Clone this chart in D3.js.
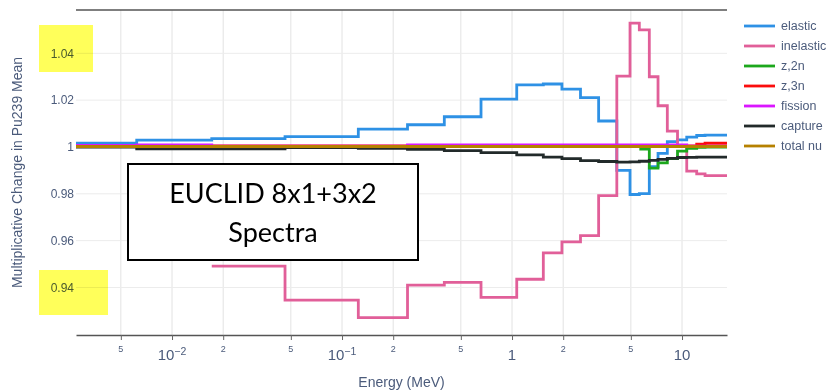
<!DOCTYPE html>
<html>
<head>
<meta charset="utf-8">
<script src="https://cdn.jsdelivr.net/npm/d3@7"></script>
<style>
  body { margin: 0; background: #fff; }
  svg { display: block; font-family: "Liberation Sans", Arial, sans-serif; }
</style>
</head>
<body>
<svg id="chart" width="827" height="392"></svg>
<script>
// bin edges (MeV) shared by all sensitivity curves
var edgesMeV = [0.002724, 0.0062, 0.01713, 0.04621, 0.1247, 0.2428, 0.3997, 0.6571, 1.066, 1.528,
  1.966, 2.528, 3.232, 4.135, 4.945, 5.608, 6.421, 7.226, 8.195, 9.408, 10.66, 12.2, 13.66, 18.39]

// one value per bin (null = no data in that bin)
var elastic = [1.0016, 1.0029, 1.0036, 1.0044, 1.0076, 1.0095, 1.0129, 1.0204, 1.0265, 1.0269,
  1.0247, 1.0211, 1.0111, 0.9900, 0.9797, 0.9801, 0.9916, 0.9973, 1.0023, 1.0030, 1.0042, 1.0049, 1.0051]
var inelastic = [null, null, 0.9491, 0.9346, 0.9271, 0.9410, 0.9422, 0.9358, 0.9435, 0.9548,
  0.9595, 0.9621, 0.9792, 1.0303, 1.0529, 1.0500, 1.0300, 1.0176, 1.0068, 1.0004, 0.9897, 0.9885, 0.9878]
var z2n = [null, null, null, null, null, null, null, null, null, null,
  null, null, null, null, null, 0.9991, 0.9910, 0.9932, 0.9950, 0.9982, 0.9994, 0.9998, 0.9999]
var z3n = [1.0005, 1.0005, 1.0005, 1.0005, 1.0005, 1.0005, 1.0005, 1.0005, 1.0005, 1.0005,
  1.0005, 1.0005, 1.0005, 1.0005, 1.0005, 1.0005, 1.0005, 1.0005, 1.0005, 1.0005, 1.0005, 1.0012, 1.0016]
var fission = [1.0007, 1.0009, 1.0004, 1.0004, 1.0004, 1.0009, 1.0009, 1.0009, 1.0009, 1.0009,
  1.0009, 1.0009, 1.0009, 1.0009, 1.0009, 1.0009, 1.0009, 1.0009, 1.0009, 1.0009, 1.0004, 1.0004, 1.0004]
var capture = [0.9999, 0.9992, 0.9992, 0.9997, 0.9994, 0.9990, 0.9984, 0.9976, 0.9966, 0.9957,
  0.9950, 0.9942, 0.9938, 0.9935, 0.9936, 0.9939, 0.9943, 0.9947, 0.9951, 0.9955, 0.9956, 0.9957, 0.9957]
var totalNu = [1.0002, 1.0002, 1.0002, 1.0002, 1.0002, 1.0002, 1.0002, 1.0002, 1.0002, 1.0002,
  1.0002, 1.0002, 1.0002, 1.0002, 1.0002, 1.0002, 1.0002, 1.0002, 1.0002, 1.0002, 1.0002, 1.0002, 1.0002]

var seriesNames = ['elastic', 'inelastic', 'z,2n', 'z,3n', 'fission', 'capture', 'total nu']
var seriesValues = [elastic, inelastic, z2n, z3n, fission, capture, totalNu]
var seriesColors = ['#2E91E5', '#E15F99', '#1CA71C', '#FB0D0D', '#DA16FF', '#222A2A', '#B68100']

var yTicks = [0.94, 0.96, 0.98, 1, 1.02, 1.04]
var yTickLabels = ['0.94', '0.96', '0.98', '1', '1.02', '1.04']
var xMajorTicks = [0.01, 0.1, 1, 10]
var xMajorLabels = [['10', '\u22122'], ['10', '\u22121'], ['1', ''], ['10', '']]
var xMinorTicks = [0.005, 0.02, 0.05, 0.2, 0.5, 2, 5]
var xMinorLabels = ['5', '2', '5', '2', '5', '2', '5']

var textColor = '#4b5b7b'
var margin = {left: 76, right: 100, top: 10, bottom: 57}
var width = 827, height = 392

var svg = d3.select('#chart')

var x = d3.scaleLog()
    .domain([edgesMeV[0], edgesMeV[edgesMeV.length - 1]])
    .range([margin.left, width - margin.right])
var y = d3.scaleLinear()
    .domain([0.9197, 1.0585])
    .range([height - margin.bottom, margin.top])

// grid
var grid = svg.append('g')
grid.selectAll('line.vx')
  .data(xMajorTicks.concat(xMinorTicks))
  .join('line')
    .attr('x1', d => x(d)).attr('x2', d => x(d))
    .attr('y1', margin.top).attr('y2', height - margin.bottom)
    .attr('stroke', '#e3e3e3')
grid.selectAll('line.hy')
  .data(yTicks)
  .join('line')
    .attr('x1', margin.left).attr('x2', width - margin.right)
    .attr('y1', d => y(d)).attr('y2', d => y(d))
    .attr('stroke', '#ececec')

// x axis
var xAxis = d3.axisBottom(x)
    .tickValues(xMajorTicks.concat(xMinorTicks))
    .tickSize(5)
    .tickSizeOuter(0)
    .tickFormat('')
var gx = svg.append('g')
    .attr('transform', `translate(0,${height - margin.bottom})`)
    .call(xAxis)
gx.select('.domain').attr('stroke', '#555').attr('stroke-width', 1.6)
gx.selectAll('.tick line').attr('stroke', '#666')

svg.append('line')
    .attr('x1', margin.left).attr('x2', width - margin.right)
    .attr('y1', margin.top).attr('y2', margin.top)
    .attr('stroke', '#555').attr('stroke-width', 1.6)

svg.append('g').selectAll('text')
  .data(xMinorTicks)
  .join('text')
    .attr('x', d => x(d))
    .attr('y', 352)
    .attr('text-anchor', 'middle')
    .attr('font-size', 9)
    .attr('fill', textColor)
    .text((d, i) => xMinorLabels[i])

var major = svg.append('g').selectAll('text')
  .data(xMajorTicks)
  .join('text')
    .attr('x', d => x(d))
    .attr('y', 360)
    .attr('text-anchor', 'middle')
    .attr('font-size', 15)
    .attr('fill', textColor)
major.append('tspan').text((d, i) => xMajorLabels[i][0])
major.append('tspan')
    .attr('dy', '-0.5em')
    .attr('font-size', 10.5)
    .text((d, i) => xMajorLabels[i][1])

svg.append('text')
    .attr('x', (margin.left + width - margin.right) / 2)
    .attr('y', 387)
    .attr('text-anchor', 'middle')
    .attr('font-size', 14)
    .attr('fill', textColor)
    .text('Energy (MeV)')

// y axis
svg.append('g').selectAll('text')
  .data(yTicks)
  .join('text')
    .attr('x', 74)
    .attr('y', d => y(d))
    .attr('dy', '0.35em')
    .attr('text-anchor', 'end')
    .attr('font-size', 12)
    .attr('fill', textColor)
    .text((d, i) => yTickLabels[i])

svg.append('text')
    .attr('transform', `translate(22,${(margin.top + height - margin.bottom) / 2}) rotate(-90)`)
    .attr('text-anchor', 'middle')
    .attr('font-size', 14)
    .attr('fill', textColor)
    .text('Multiplicative Change in Pu239 Mean')

// step lines
svg.append('clipPath').attr('id', 'plotclip')
  .append('rect')
    .attr('x', margin.left).attr('y', margin.top)
    .attr('width', width - margin.left - margin.right)
    .attr('height', height - margin.top - margin.bottom)

var line = d3.line()
    .defined(d => d.v != null)
    .x(d => x(d.e))
    .y(d => y(d.v))
    .curve(d3.curveStepAfter)

var stepPoints = vals => edgesMeV.map((e, i) => ({e: e, v: i < vals.length ? vals[i] : vals[vals.length - 1]}))

svg.append('g')
    .attr('clip-path', 'url(#plotclip)')
  .selectAll('path')
  .data(seriesValues)
  .join('path')
    .attr('d', d => line(stepPoints(d)))
    .attr('fill', 'none')
    .attr('stroke', (d, i) => seriesColors[i])
    .attr('stroke-width', 2.8)

// legend
var legend = svg.append('g').selectAll('g')
  .data(seriesNames)
  .join('g')
    .attr('transform', (d, i) => `translate(744,${26 + i * 20})`)
legend.append('line')
    .attr('x1', 0).attr('x2', 31)
    .attr('stroke', (d, i) => seriesColors[i])
    .attr('stroke-width', 2.8)
legend.append('text')
    .attr('x', 37)
    .attr('dy', '0.35em')
    .attr('font-size', 12.5)
    .attr('fill', textColor)
    .text(d => d)

// annotation box
svg.append('rect')
    .attr('x', 128).attr('y', 164)
    .attr('width', 290).attr('height', 96)
    .attr('fill', '#fff')
    .attr('stroke', '#000')
    .attr('stroke-width', 2)
var note = svg.append('g')
    .attr('font-family', 'Lato, "Open Sans", sans-serif')
    .attr('font-size', 27)
    .attr('text-anchor', 'middle')
    .attr('fill', '#000')
note.append('text').attr('x', 273).attr('y', 203).text('EUCLID 8x1+3x2')
note.append('text').attr('x', 273).attr('y', 242).text('Spectra')

// highlighter marks over two tick labels
svg.append('rect')
    .attr('x', 39).attr('y', 25).attr('width', 54).attr('height', 47)
    .attr('fill', '#ffff5a').style('mix-blend-mode', 'multiply')
svg.append('rect')
    .attr('x', 39).attr('y', 270).attr('width', 69).attr('height', 45)
    .attr('fill', '#ffff5a').style('mix-blend-mode', 'multiply')
</script>
</body>
</html>
